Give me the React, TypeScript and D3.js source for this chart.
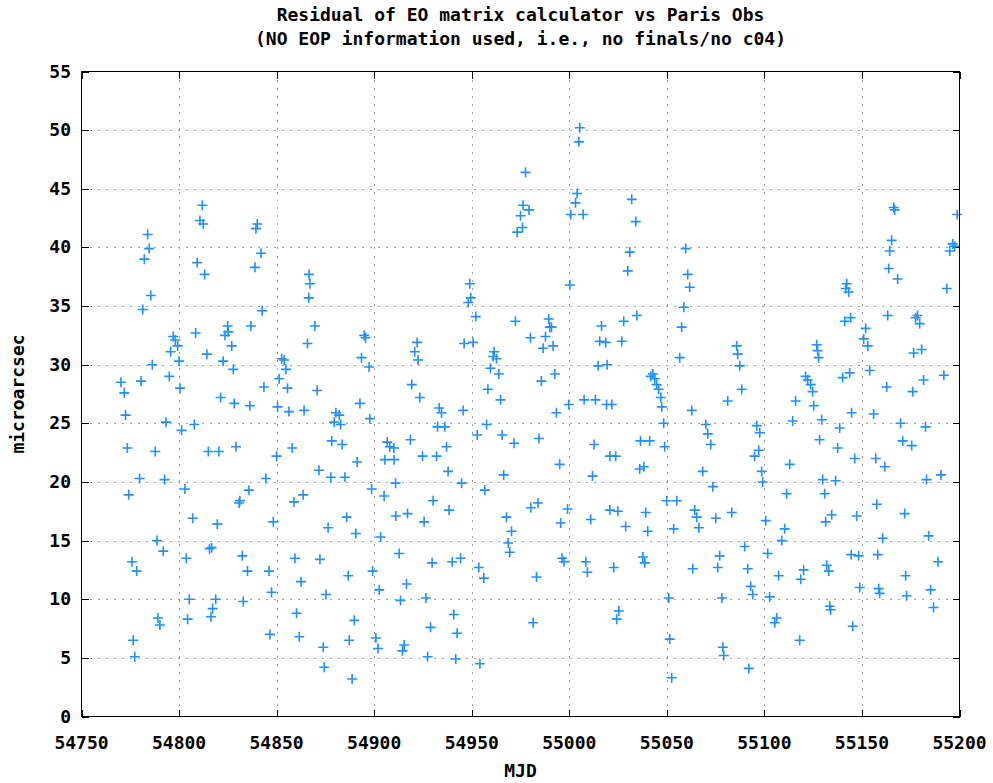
import React from 'react';
import * as d3 from 'd3';

// MJD of each sample
const mjd: number[] = [
  54770.2, 54771.9, 54772.6, 54773.5, 54774.2, 54775.9, 54776.5, 54777.3, 54778.3, 54779.8,
  54780.5, 54781.4, 54782.2, 54783.9, 54784.7, 54785.5, 54786.3, 54787.8, 54788.7, 54789.2,
  54790.2, 54791.9, 54792.6, 54793.3, 54795.0, 54795.7, 54797.0, 54798.1, 54799.3, 54800.0,
  54800.5, 54801.3, 54803.0, 54803.7, 54804.4, 54805.2, 54807.0, 54807.8, 54808.5, 54809.3,
  54810.7, 54811.9, 54812.4, 54813.1, 54814.3, 54815.0, 54815.6, 54816.4, 54816.7, 54817.2,
  54818.8, 54819.6, 54820.4, 54821.3, 54822.6, 54823.5, 54824.9, 54825.2, 54827.0, 54827.8,
  54828.3, 54829.2, 54830.8, 54831.2, 54832.4, 54832.9, 54835.1, 54835.8, 54836.3, 54836.8,
  54838.9, 54839.4, 54840.1, 54842.0, 54842.6, 54843.5, 54844.5, 54846.1, 54846.6, 54847.4,
  54848.3, 54850.0, 54850.5, 54851.3, 54852.6, 54853.9, 54854.8, 54855.6, 54856.3, 54858.0,
  54858.9, 54859.4, 54860.2, 54861.6, 54862.5, 54863.6, 54864.1, 54865.8, 54866.5, 54866.6,
  54867.1, 54869.6, 54870.8, 54871.7, 54872.2, 54873.9, 54874.4, 54875.3, 54876.4, 54877.8,
  54878.3, 54879.5, 54880.4, 54882.1, 54882.8, 54883.6, 54885.0, 54885.9, 54886.7, 54887.2,
  54888.7, 54889.8, 54890.6, 54891.3, 54892.7, 54893.5, 54894.9, 54895.6, 54897.4, 54897.8,
  54898.7, 54899.2, 54900.9, 54902.0, 54902.6, 54903.3, 54905.1, 54905.5, 54906.7, 54908.0,
  54910.1, 54910.2, 54911.0, 54911.1, 54912.8, 54913.5, 54914.5, 54915.4, 54916.6, 54917.1,
  54918.6, 54919.3, 54920.8, 54922.0, 54922.5, 54923.4, 54924.8, 54925.6, 54926.5, 54927.4,
  54928.9, 54929.7, 54930.2, 54932.0, 54932.5, 54933.3, 54934.5, 54936.2, 54937.1, 54937.9,
  54938.4, 54940.0, 54940.8, 54941.8, 54942.5, 54944.3, 54944.8, 54945.6, 54946.1, 54948.2,
  54949.0, 54949.5, 54950.7, 54952.1, 54952.8, 54953.6, 54954.2, 54956.2, 54956.7, 54957.6,
  54958.3, 54959.6, 54961.0, 54961.5, 54962.7, 54963.9, 54964.8, 54965.6, 54966.4, 54967.8,
  54968.7, 54969.5, 54970.4, 54971.7, 54972.4, 54973.3, 54975.0, 54976.0, 54976.3, 54977.6,
  54979.4, 54980.1, 54980.3, 54981.5, 54983.2, 54984.0, 54984.5, 54985.7, 54986.6, 54987.8,
  54989.5, 54990.0, 54990.9, 54991.7, 54992.6, 54993.4, 54995.1, 54995.6, 54996.3, 54997.3,
  54999.1, 54999.7, 55000.3, 55000.8, 55003.2, 55004.0, 55004.9, 55005.4, 55007.1, 55007.6,
  55008.5, 55009.3, 55011.0, 55011.9, 55012.7, 55013.4, 55014.8, 55015.6, 55016.5, 55018.7,
  55019.1, 55019.4, 55020.8, 55020.8,
  55021.8, 55022.8, 55023.8, 55024.3, 55024.9, 55025.4, 55026.9, 55027.9, 55028.9, 55030.0,
  55031.0, 55032.0, 55034.1, 55034.6, 55036.1, 55036.5, 55037.7, 55038.2, 55038.7, 55039.2,
  55040.2, 55041.2, 55041.7, 55042.8, 55043.8, 55044.8, 55045.8, 55046.9, 55047.4, 55048.4,
  55048.9, 55049.9, 55051.0, 55051.5, 55052.5, 55053.5, 55055.1, 55056.6, 55057.6, 55058.7,
  55059.7, 55060.7, 55061.7, 55062.8, 55063.3, 55064.3, 55065.3, 55066.4, 55068.4, 55070.0,
  55071.0, 55072.5, 55073.6, 55075.1, 55076.1, 55077.1, 55078.2, 55078.7, 55079.2, 55081.2,
  55083.3, 55085.8, 55086.3, 55087.4, 55088.4, 55089.9, 55091.5, 55092.0, 55093.0, 55094.0,
  55095.0, 55096.1, 55097.1, 55097.6, 55098.6, 55099.1, 55100.7, 55101.7, 55102.7, 55105.3,
  55106.3, 55107.3, 55108.9, 55110.4, 55111.4, 55113.0, 55114.5, 55116.0, 55118.1, 55118.6,
  55120.1, 55121.1, 55122.2, 55123.7, 55124.7, 55125.3, 55126.8, 55127.3, 55127.8, 55128.3,
  55129.4, 55129.9, 55130.9, 55131.4, 55131.9, 55133.0, 55133.5, 55134.0, 55134.5, 55136.5,
  55137.6, 55138.6, 55140.1, 55141.2, 55141.7, 55142.2, 55143.2, 55143.7, 55144.2, 55144.5,
  55144.7, 55145.3, 55146.3, 55147.3, 55148.3, 55148.9, 55150.9, 55151.9, 55153.0, 55154.0,
  55156.0, 55157.1, 55157.6, 55158.1, 55158.6, 55159.1, 55160.6, 55161.7, 55162.7, 55163.2,
  55163.7, 55164.2, 55165.2, 55166.3, 55166.8, 55168.3, 55169.8, 55170.9, 55171.9, 55172.4,
  55172.9, 55175.5, 55176.0, 55176.5, 55177.5, 55178.5, 55179.6, 55180.6, 55181.6, 55182.6,
  55183.1, 55184.2, 55185.2, 55186.7, 55189.0, 55190.5, 55192.0, 55193.5, 55195.0, 55196.5,
  55197.5, 55198.8
];

// residual, microarcsec
const residual: number[] = [
  28.5, 27.6, 25.7, 22.9, 18.9, 13.2, 6.5, 5.1, 12.4, 20.3,
  28.6, 34.7, 39.0, 41.1, 39.9, 35.9, 30.0, 22.6, 15.0, 8.4,
  7.8, 14.1, 20.2, 25.1, 29.0, 31.1, 32.4, 32.1, 31.6, 30.3,
  28.0, 24.4, 19.4, 13.5, 8.3, 10.0, 16.9, 24.9, 32.7, 38.7,
  42.3, 43.6, 42.0, 37.7, 30.9, 22.6, 14.3, 8.5, 14.4, 9.2,
  10.0, 16.4, 22.6, 27.2, 30.3, 32.5, 33.3, 32.8, 31.6, 29.6,
  26.7, 23.0, 18.2, 18.4, 13.7, 9.8, 12.4, 19.3, 26.5, 33.3,
  38.3, 41.6, 42.0, 39.5, 34.6, 28.1, 20.3, 12.4, 7.0, 10.6,
  16.6, 22.2, 26.4, 28.8, 30.5, 30.4, 29.6, 28.0, 26.0, 22.9,
  18.3, 13.5, 8.8, 6.8, 11.5, 18.9, 26.1, 31.8, 35.7, 37.7,
  36.9, 33.3, 27.8, 21.0, 13.4, 5.9, 4.2, 10.4, 16.1, 20.4,
  23.5, 25.1, 25.9, 25.7, 24.9, 23.2, 20.4, 17.0, 12.0, 6.5,
  3.2, 8.2, 15.6, 21.7, 26.7, 30.6, 32.5, 32.3, 29.8, 25.4,
  19.4, 12.4, 6.7, 5.8, 10.8, 15.3, 18.8, 21.9, 23.4, 23.0,
  22.9, 21.9, 19.9, 17.1, 13.9, 9.9, 5.6, 6.1, 11.3, 17.3,
  23.6, 28.3, 31.1, 31.9, 30.4, 27.2, 22.2, 16.6, 10.1, 5.1,
  7.6, 13.1, 18.4, 22.2, 24.7, 26.3, 25.9, 24.7, 23.0, 20.9,
  17.6, 13.2, 8.7, 4.9, 7.1, 13.5, 19.9, 26.1, 31.8, 35.3,
  36.9, 35.7, 31.9, 34.1, 24.0, 12.7, 4.5, 11.8, 19.3, 24.9,
  27.9, 29.7, 30.7, 31.1, 30.5, 29.2, 27.0, 24.0, 20.6, 17.0,
  14.8, 14.0, 15.8, 23.3, 33.7, 41.3, 42.7, 41.7, 43.6, 46.4,
  43.2, 32.3, 17.8, 8.0, 11.9, 18.2, 23.7, 28.6, 31.4, 32.4,
  33.9, 33.2, 33.2, 31.6, 29.2, 25.9, 21.5, 16.5, 13.5, 13.2,
  17.7, 26.6, 36.8, 42.8, 43.8, 44.6, 49.0, 50.2, 42.8, 27.0,
  13.2, 12.3, 16.8, 20.5, 23.2, 27.0, 29.9, 32.0, 33.3, 31.9,
  26.6, 30.0, 22.2, 17.6,
  26.6, 12.7, 22.2, 8.3, 17.5, 9.0, 32.0, 33.7, 16.2, 38.0,
  39.6, 44.1, 42.2, 34.2, 21.1, 23.5, 13.6, 21.3, 13.1, 17.4,
  15.8, 23.5, 29.0, 29.2, 28.8, 28.3, 27.9, 27.2, 26.4, 25.0,
  23.0, 18.4, 10.1, 6.6, 3.3, 16.0, 18.4, 30.6, 33.2, 34.9,
  39.9, 37.7, 36.6, 26.1, 12.6, 17.6, 17.0, 16.1, 20.9, 24.9,
  24.1, 23.2, 19.6, 16.9, 12.7, 13.7, 10.1, 5.9, 5.2, 26.9,
  17.4, 31.6, 30.9, 29.9, 27.9, 14.5, 12.6, 4.1, 11.1, 10.4,
  22.2, 24.8, 22.7, 24.2, 20.9, 20.0, 16.7, 13.9, 10.2, 8.0,
  8.4, 12.0, 15.0, 16.0, 19.0, 21.5, 25.2, 26.9, 6.5, 11.7,
  12.5, 29.0, 28.7, 28.3, 27.7, 26.5, 31.7, 31.2, 30.6, 23.6,
  25.3, 20.2, 19.0, 16.6, 12.9, 12.4, 9.4, 9.1, 17.2, 20.1,
  22.9, 24.6, 28.9, 33.7, 36.5, 36.9, 36.2, 29.3, 34.0, 13.8,
  25.9, 7.7, 22.0, 17.1, 13.7, 11.0, 32.2, 33.1, 31.6, 29.5,
  25.8, 22.0, 18.1, 13.8, 10.9, 10.5, 15.2, 21.3, 28.1, 34.2,
  38.2, 39.7, 40.6, 43.4, 43.2, 37.3, 25.0, 23.5, 17.3, 12.0,
  10.3, 23.1, 27.7, 31.0, 34.0, 34.2, 33.5, 31.3, 28.7, 24.7,
  20.2, 15.4, 10.8, 9.3, 13.2, 20.6, 29.1, 36.5, 39.7, 40.3,
  40.1, 42.8
];

const xTicks: number[] = [54750, 54800, 54850, 54900, 54950, 55000, 55050, 55100, 55150, 55200];
const yTicks: number[] = [0, 5, 10, 15, 20, 25, 30, 35, 40, 45, 50, 55];
const titleLines: string[] = [
  'Residual of EO matrix calculator vs Paris Obs',
  '(NO EOP information used, i.e., no finals/no c04)'
];
const xLabel = 'MJD';
const yLabel = 'microarcsec';

export default function App() {
  const W = 993;
  const H = 783;
  const L = 81.5, R = 959.5, T = 71.5, B = 716.5;
  const x = d3.scaleLinear().domain([54750, 55200]).range([L, R]);
  const y = d3.scaleLinear().domain([0, 55]).range([B, T]);
  const font = '"DejaVu Sans Mono", monospace';
  const tick = 7;
  const n = Math.min(mjd.length, residual.length);
  const pts = d3.range(n).map(i => [mjd[i], residual[i]] as [number, number]);
  const s = 5;
  return (
    <svg width={W} height={H} style={{ position: 'absolute', left: 0, top: 0, background: '#fff' }}>
      <rect x={0} y={0} width={W} height={H} fill="#fff" />
      {/* grid */}
      <g stroke="#a0a0a0" strokeWidth={1} strokeDasharray="2,6" shapeRendering="crispEdges">
        {xTicks.slice(1, -1).map(t => (
          <line key={'gx' + t} x1={Math.round(x(t)) + 0.5} x2={Math.round(x(t)) + 0.5} y1={T} y2={B} />
        ))}
        {yTicks.slice(1, -1).map(t => (
          <line key={'gy' + t} x1={L} x2={R} y1={Math.round(y(t)) + 0.5} y2={Math.round(y(t)) + 0.5} />
        ))}
      </g>
      {/* ticks */}
      <g stroke="#000" strokeWidth={1} shapeRendering="crispEdges">
        {xTicks.map(t => (
          <g key={'tx' + t}>
            <line x1={Math.round(x(t)) + 0.5} x2={Math.round(x(t)) + 0.5} y1={B} y2={B - tick} />
            <line x1={Math.round(x(t)) + 0.5} x2={Math.round(x(t)) + 0.5} y1={T} y2={T + tick} />
          </g>
        ))}
        {yTicks.map(t => (
          <g key={'ty' + t}>
            <line x1={L} x2={L + tick} y1={Math.round(y(t)) + 0.5} y2={Math.round(y(t)) + 0.5} />
            <line x1={R} x2={R - tick} y1={Math.round(y(t)) + 0.5} y2={Math.round(y(t)) + 0.5} />
          </g>
        ))}
      </g>
      {/* points */}
      <g stroke="#1e90ff" strokeWidth={1.6} fill="none">
        {pts.map((p, i) => {
          const cx = x(p[0]);
          const cy = y(p[1]);
          return <path key={i} d={`M${cx - s},${cy}H${cx + s}M${cx},${cy - s}V${cy + s}`} />;
        })}
      </g>
      {/* frame */}
      <rect x={L} y={T} width={R - L} height={B - T} fill="none" stroke="#000" strokeWidth={1} shapeRendering="crispEdges" />
      {/* text */}
      <g fontFamily={font} fontSize={18} fontWeight="bold" fill="#000">
        {xTicks.map(t => (
          <text key={'lx' + t} x={x(t)} y={749} textAnchor="middle">{t}</text>
        ))}
        {yTicks.map(t => (
          <text key={'ly' + t} x={71} y={y(t) + 6} textAnchor="end">{t}</text>
        ))}
        <text x={(L + R) / 2} y={777} textAnchor="middle">{xLabel}</text>
        <text transform={`translate(24,${(T + B) / 2}) rotate(-90)`} textAnchor="middle">{yLabel}</text>
        {titleLines.map((t, i) => (
          <text key={'t' + i} x={(L + R) / 2} y={21 + i * 24} textAnchor="middle">{t}</text>
        ))}
      </g>
    </svg>
  );
}
